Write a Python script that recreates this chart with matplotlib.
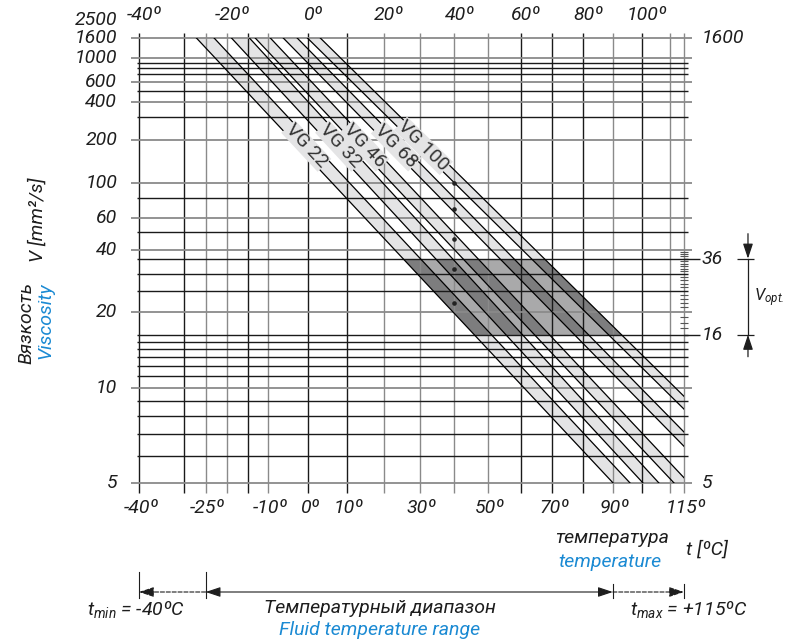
import numpy as np
import matplotlib.pyplot as plt
from matplotlib import transforms
from matplotlib.patches import Polygon, Rectangle

plt.rcParams['font.family'] = ['Roboto', 'DejaVu Sans']
plt.rcParams['font.style'] = 'italic'
plt.rcParams['mathtext.fontset'] = 'custom'
plt.rcParams['mathtext.it'] = 'Roboto:italic'
plt.rcParams['mathtext.rm'] = 'Roboto:italic'

# ---------------- data ----------------
vg_names = ['VG 22', 'VG 32', 'VG 46', 'VG 68', 'VG 100']
vg_nominal = [22, 32, 46, 68, 100]          # mm2/s at 40 C (dots)
# temperature where each band edge meets 1600 mm2/s and 5 mm2/s
t1600_lo = [-27.2, -19.0, -13.3, -6.4, -0.3]
t1600_hi = [-23.1, -14.7, -9.6, -2.9, 3.0]
t5_lo = [90.1, 100.4, 111.4, 128.3, 143.2]
t5_hi = [95.9, 106.0, 116.8, 133.6, 148.3]

t_grid = [-40, -30, -25, -20, -15, -10, 0, 10, 20, 30, 40, 50, 60, 70, 80, 90, 100, 110, 115]
t_grid_grey = [-25, -20, -10, 20, 30, 40, 50, 90, 110, 115]
v_grid_major = [1600, 1000, 600, 400, 200, 100, 60, 40, 20, 10, 5]
v_grid_minor = [900, 800, 700, 500, 300, 80, 50, 36, 30, 25, 16, 15, 14, 13, 12, 11, 9, 8, 7, 6]
v_ticks_right = [17, 18, 19, 21, 22, 23, 24, 26, 27, 28, 29, 31, 32, 33, 34, 35, 37, 38, 39]

top_labels = [-40, -20, 0, 20, 40, 60, 80, 100]
bottom_labels = [-40, -25, -10, 0, 10, 30, 50, 70, 90, 115]
left_labels = [2500, 1600, 1000, 600, 400, 200, 100, 60, 40, 20, 10, 5]
right_labels = [1600, 36, 16, 5]
v_opt = [16, 36]
t_min, t_lo, t_hi, t_max = -40, -25, 90, 115

BLUE = '#1b8ad3'
TXT = '#1e1e1e'
FS = 14


# ---------------- Ubbelohde-Walther scales ----------------
def t_fwd(t):
    return np.log10(np.clip(np.asarray(t, float) + 273.15, 1e-6, None))


def t_inv(x):
    return 10 ** np.asarray(x, float) - 273.15


def v_fwd(v):
    return np.log10(np.log10(np.clip(np.asarray(v, float) + 0.7, 1.0001, None)))


def v_inv(y):
    return 10 ** (10 ** np.clip(np.asarray(y, float), -3, 2.5)) - 0.7


fig = plt.figure(figsize=(7.86, 6.42), dpi=100)
ax = fig.add_axes([139 / 786, 1 - 483 / 642, 545 / 786, 445.3 / 642])
ax.set_xscale('function', functions=(t_fwd, t_inv))
ax.set_yscale('function', functions=(v_fwd, v_inv))
ax.set_xlim(t_min, t_max)
ax.set_ylim(5, 1600)
ax.axis('off')

xt = ax.get_xaxis_transform()
yt = ax.get_yaxis_transform()

# ---------------- bands ----------------
band_fill = '#e4e4e5'
strip = Rectangle((0, v_opt[0]), 1, v_opt[1] - v_opt[0], transform=yt)
for i in range(len(vg_names)):
    pts = [(t1600_lo[i], 1600), (t5_lo[i], 5), (t5_hi[i], 5), (t1600_hi[i], 1600)]
    ax.add_patch(Polygon(pts, closed=True, fc=band_fill, ec='none', zorder=1))
    dark = Polygon(pts, closed=True, fc='#7d7d7e', ec='none', zorder=1.5)
    ax.add_patch(dark)
    dark.set_clip_path(strip)

hull = Polygon([(t1600_lo[0], 1600), (t5_lo[0], 5), (t5_hi[-1], 5), (t1600_hi[-1], 1600)],
               closed=True, transform=ax.transData)
mid = ax.axhspan(v_opt[0], v_opt[1], color='#a9a9aa', lw=0, zorder=1.2)
mid.set_clip_path(hull)

# ---------------- grid ----------------
vcol = ['#8a8a8a' if t in t_grid_grey else '#1a1a1a' for t in t_grid]
ax.vlines(t_grid, -0.022, 1.01, transform=xt, colors=vcol, lw=1.0, clip_on=False, zorder=3)
ax.hlines(v_grid_major, -0.015, 1.015, transform=yt, colors='#8a8a8a', lw=1.3, clip_on=False, zorder=3)
ax.hlines(v_grid_minor, -0.004, 1.007, transform=yt, colors='#1a1a1a', lw=1.0, clip_on=False, zorder=3)
ax.hlines(v_opt, 1.0, 1.029, transform=yt, colors='#1a1a1a', lw=1.0, clip_on=False, zorder=3)
ax.hlines(v_ticks_right, 0.992, 1.007, transform=yt, colors='#555555', lw=0.8, clip_on=False, zorder=3)

# band edge lines
for i in range(len(vg_names)):
    ax.plot([t1600_lo[i], t5_lo[i]], [1600, 5], color='black', lw=0.9, zorder=4)
    ax.plot([t1600_hi[i], t5_hi[i]], [1600, 5], color='black', lw=0.9, zorder=4)

ax.plot([40] * len(vg_nominal), vg_nominal, 'o', ms=2.3, color='#222222', zorder=6)

# VG labels along the bands
fig.canvas.draw()
for i, name in enumerate(vg_names):
    p0 = ax.transData.transform(((t1600_lo[i] + t1600_hi[i]) / 2, 1600))
    p1 = ax.transData.transform(((t5_lo[i] + t5_hi[i]) / 2, 5))
    ang = np.degrees(np.arctan2(p1[1] - p0[1], p1[0] - p0[0]))
    ytarget = ax.transAxes.transform((0, 0.757))[1]
    frac = (ytarget - p0[1]) / (p1[1] - p0[1])
    pos = p0 + frac * (p1 - p0)
    ax.text(*ax.transAxes.inverted().transform(pos), name, transform=ax.transAxes,
            rotation=ang, rotation_mode='anchor', ha='center', va='center',
            fontsize=14, style='normal', color='#333333', zorder=5,
            bbox=dict(fc=band_fill, ec='none', pad=0.3))

# ---------------- tick labels ----------------
top_tr = transforms.offset_copy(xt, fig=fig, x=5, y=0, units='dots')
for t in top_labels:
    ax.text(t, 1.051, f'{t}º', transform=top_tr, ha='center', va='center', fontsize=FS, color=TXT)
bot_tr = transforms.offset_copy(xt, fig=fig, x=2, y=0, units='dots')
for t in bottom_labels:
    ax.text(t, -0.056, f'{t}º', transform=bot_tr, ha='center', va='center', fontsize=FS, color=TXT)
for v in left_labels:
    ax.text(-0.04, v, f'{v}', transform=yt, ha='right', va='center', fontsize=FS, color=TXT)
for v in right_labels:
    ax.text(1.033, v, f'{v}', transform=yt, ha='left', va='center', fontsize=FS, color=TXT)

# V_opt bracket
xb = 1.1174
ax.plot([xb, xb], v_opt, transform=yt, color=TXT, lw=0.9, clip_on=False)
ax.hlines(v_opt, 1.097, 1.128, transform=yt, colors=TXT, lw=0.9, clip_on=False)
hs = dict(arrowstyle='-|>,head_length=0.9,head_width=0.3', color=TXT, lw=0.9,
          shrinkA=0, shrinkB=0)
ax.annotate('', xy=(xb, v_opt[1]), xycoords=yt, xytext=(0, 25), textcoords='offset pixels', arrowprops=hs)
ax.annotate('', xy=(xb, v_opt[0]), xycoords=yt, xytext=(0, -22), textcoords='offset pixels', arrowprops=hs)
fig.text(754 / 786, 1 - 298 / 642, r'$V_{opt.}$', fontsize=12, color=TXT, ha='left', va='center')

# axis titles
fig.text(26 / 786, 1 - 282 / 642, 'Вязкость', rotation=90, ha='center', va='top', fontsize=FS, color=TXT)
fig.text(45 / 786, 1 - 282 / 642, 'Viscosity', rotation=90, ha='center', va='top', fontsize=FS, color=BLUE)
fig.text(38 / 786, 1 - 220 / 642, 'V [mm²/s]', rotation=90, ha='center', va='center', fontsize=FS, color=TXT)

fig.text(612 / 786, 1 - 538 / 642, 'температура', ha='center', va='center', fontsize=FS, color=TXT)
fig.text(610 / 786, 1 - 562 / 642, 'temperature', ha='center', va='center', fontsize=FS, color=BLUE)
fig.text(707 / 786, 1 - 550 / 642, 't [ºC]', ha='center', va='center', fontsize=FS, color=TXT)

# ---------------- temperature range arrows ----------------
bt = transforms.blended_transform_factory(ax.transData, fig.transFigure)
ya = 1 - 592 / 642
for t in [t_min, t_lo]:
    ax.plot([t, t], [1 - 572 / 642, 1 - 598 / 642], transform=bt, color=TXT, lw=0.8, clip_on=False)
for t in [t_hi, t_max]:
    ax.plot([t, t], [1 - 584 / 642, 1 - 598 / 642], transform=bt, color=TXT, lw=0.8, clip_on=False)
head = 'head_length=0.9,head_width=0.3'
ax.annotate('', xy=(t_min, ya), xycoords=bt, xytext=(t_lo, ya), textcoords=bt,
            arrowprops=dict(arrowstyle='-|>,' + head, color=TXT, lw=0.8, ls='--', shrinkA=0, shrinkB=0))
ax.annotate('', xy=(t_hi, ya), xycoords=bt, xytext=(t_lo, ya), textcoords=bt,
            arrowprops=dict(arrowstyle='<|-|>,' + head, color=TXT, lw=0.8, shrinkA=0, shrinkB=0))
ax.annotate('', xy=(t_max, ya), xycoords=bt, xytext=(t_hi, ya), textcoords=bt,
            arrowprops=dict(arrowstyle='-|>,' + head, color=TXT, lw=0.8, ls='--', shrinkA=0, shrinkB=0))

fig.text(136 / 786, 1 - 610 / 642, r'$t_{min}$ = -40ºC', ha='center', va='center', fontsize=FS, color=TXT)
fig.text(689 / 786, 1 - 610 / 642, r'$t_{max}$ = +115ºC', ha='center', va='center', fontsize=FS, color=TXT)
fig.text(380 / 786, 1 - 608 / 642, 'Температурный диапазон', ha='center', va='center', fontsize=FS, color=TXT)
fig.text(380 / 786, 1 - 630 / 642, 'Fluid temperature range', ha='center', va='center', fontsize=FS, color=BLUE)

fig.savefig('out.png', dpi=100, facecolor='white')
